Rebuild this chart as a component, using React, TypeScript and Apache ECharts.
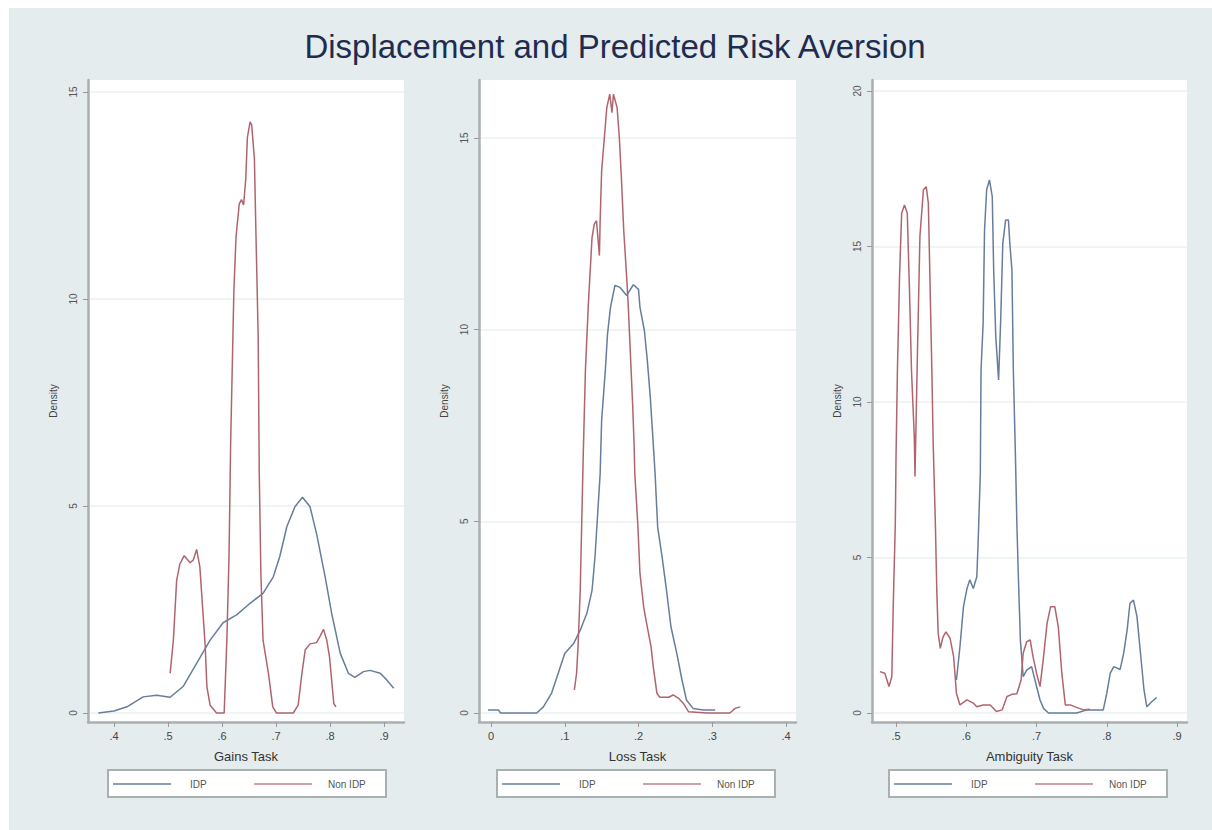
import React, { useEffect, useRef } from "react";
import * as echarts from "echarts";

const titleText = "Displacement and Predicted Risk Aversion";
const seriesNames = ["IDP", "Non IDP"];
const xAxisNames = ["Gains Task", "Loss Task", "Ambiguity Task"];
const yAxisName = "Density";

const gainsTicksX = [0.4, 0.5, 0.6, 0.7, 0.8, 0.9];
const lossTicksX = [0, 0.1, 0.2, 0.3, 0.4];
const ambTicksX = [0.5, 0.6, 0.7, 0.8, 0.9];
const gainsTicksY = [0, 5, 10, 15];
const lossTicksY = [0, 5, 10, 15];
const ambTicksY = [0, 5, 10, 15, 20];

const gainsIdp = [
  [0.371, 0], [0.4, 0.05], [0.424, 0.15], [0.454, 0.39], [0.479, 0.43], [0.504, 0.38],
  [0.528, 0.64], [0.553, 1.2], [0.578, 1.76], [0.602, 2.18], [0.627, 2.37], [0.652, 2.65],
  [0.676, 2.89], [0.695, 3.29], [0.707, 3.78], [0.72, 4.5], [0.735, 4.98], [0.749, 5.21],
  [0.763, 4.98], [0.775, 4.34], [0.791, 3.29], [0.803, 2.41], [0.819, 1.44], [0.834, 0.96],
  [0.846, 0.86], [0.862, 1.0], [0.874, 1.03], [0.893, 0.96], [0.905, 0.8], [0.918, 0.6],
];
const gainsNon = [
  [0.504, 0.96], [0.51, 1.76], [0.516, 3.2], [0.522, 3.6], [0.53, 3.8], [0.541, 3.63],
  [0.547, 3.7], [0.553, 3.95], [0.559, 3.53], [0.564, 2.57], [0.569, 1.6], [0.572, 0.64],
  [0.578, 0.19], [0.59, 0], [0.604, 0], [0.609, 1.76], [0.613, 3.78], [0.616, 6.5],
  [0.622, 10.2], [0.626, 11.5], [0.632, 12.3], [0.636, 12.4], [0.64, 12.27], [0.644, 12.9],
  [0.647, 13.9], [0.652, 14.28], [0.655, 14.2], [0.66, 13.4], [0.663, 11.5], [0.667, 9.1],
  [0.669, 5.8], [0.672, 3.37], [0.676, 1.76], [0.686, 0.96], [0.694, 0.15], [0.701, 0],
  [0.732, 0], [0.741, 0.19], [0.748, 0.96], [0.754, 1.52], [0.763, 1.67], [0.775, 1.7],
  [0.781, 1.84], [0.788, 2.02], [0.794, 1.76], [0.799, 1.36], [0.803, 0.8], [0.807, 0.23],
  [0.811, 0.15],
];
const lossIdp = [
  [-0.004, 0.08], [0.01, 0.08], [0.013, 0], [0.062, 0], [0.071, 0.16], [0.082, 0.51],
  [0.091, 1.03], [0.1, 1.55], [0.112, 1.81], [0.121, 2.16], [0.13, 2.6], [0.137, 3.2],
  [0.141, 4.07], [0.144, 5.0], [0.148, 6.24], [0.15, 7.63], [0.155, 8.93], [0.158, 9.89],
  [0.162, 10.58], [0.168, 11.15], [0.175, 11.1], [0.184, 10.89], [0.193, 11.17], [0.2, 11.05],
  [0.202, 10.58], [0.208, 9.97], [0.212, 9.19], [0.216, 8.24], [0.22, 7.02], [0.2225, 6.24],
  [0.226, 4.85], [0.232, 4.07], [0.238, 3.2], [0.244, 2.25], [0.252, 1.55], [0.259, 0.86],
  [0.265, 0.34], [0.274, 0.12], [0.288, 0.08], [0.304, 0.08],
];
const lossNon = [
  [0.113, 0.6], [0.116, 1.03], [0.118, 1.73], [0.121, 3.2], [0.123, 4.94], [0.125, 6.67],
  [0.128, 8.93], [0.132, 10.67], [0.137, 12.4], [0.14, 12.75], [0.143, 12.84], [0.147, 11.93],
  [0.148, 12.84], [0.15, 14.14], [0.153, 14.84], [0.157, 15.79], [0.161, 16.14], [0.164, 15.66],
  [0.166, 16.14], [0.171, 15.79], [0.174, 15.01], [0.177, 13.88], [0.18, 12.58], [0.184, 11.36],
  [0.186, 10.67], [0.189, 9.37], [0.192, 8.07], [0.194, 7.02], [0.195, 6.24], [0.199, 4.94],
  [0.202, 3.64], [0.207, 2.77], [0.211, 2.34], [0.217, 1.73], [0.22, 1.21], [0.225, 0.51],
  [0.229, 0.41], [0.241, 0.41], [0.247, 0.47], [0.254, 0.39], [0.261, 0.25], [0.268, 0.03],
  [0.293, 0], [0.324, 0], [0.331, 0.12], [0.338, 0.16],
];
const ambIdp = [
  [0.586, 1.06], [0.591, 2.13], [0.596, 3.42], [0.601, 4.0], [0.605, 4.28], [0.61, 4.0],
  [0.615, 4.38], [0.617, 5.56], [0.62, 7.71], [0.621, 11.03], [0.624, 12.53], [0.626, 15.53],
  [0.629, 16.82], [0.633, 17.14], [0.637, 16.6], [0.639, 14.24], [0.642, 12.1], [0.646, 10.71],
  [0.649, 12.64], [0.652, 15.1], [0.656, 15.85], [0.66, 15.85], [0.662, 15.1], [0.665, 14.24],
  [0.667, 11.03], [0.67, 8.24], [0.672, 6.1], [0.674, 4.49], [0.677, 2.35], [0.681, 1.17],
  [0.686, 1.38], [0.693, 1.49], [0.699, 0.95], [0.705, 0.42], [0.71, 0.15], [0.717, 0],
  [0.757, 0], [0.772, 0.1], [0.795, 0.1], [0.8, 0.63], [0.805, 1.28], [0.81, 1.49],
  [0.819, 1.4], [0.824, 1.92], [0.829, 2.67], [0.833, 3.53], [0.838, 3.63], [0.843, 3.1],
  [0.848, 1.92], [0.853, 0.74], [0.857, 0.2], [0.864, 0.36], [0.871, 0.5],
];
const ambNon = [
  [0.477, 1.33], [0.484, 1.28], [0.49, 0.85], [0.494, 1.17], [0.496, 3.42], [0.499, 6.1],
  [0.5, 8.24], [0.502, 11.03], [0.505, 14.03], [0.508, 16.07], [0.512, 16.33], [0.516, 16.07],
  [0.519, 13.71], [0.522, 11.03], [0.526, 8.88], [0.527, 7.6], [0.53, 11.03], [0.534, 15.32],
  [0.539, 16.82], [0.543, 16.92], [0.546, 16.39], [0.548, 14.24], [0.551, 11.03], [0.553, 8.56],
  [0.556, 6.1], [0.558, 3.95], [0.56, 2.56], [0.563, 2.08], [0.567, 2.45], [0.571, 2.61],
  [0.577, 2.4], [0.582, 1.81], [0.586, 0.63], [0.591, 0.26], [0.601, 0.42], [0.61, 0.32],
  [0.615, 0.2], [0.624, 0.26], [0.634, 0.26], [0.643, 0.05], [0.651, 0.1], [0.658, 0.53],
  [0.665, 0.6], [0.672, 0.62], [0.678, 1.06], [0.681, 1.92], [0.686, 2.29], [0.691, 2.35],
  [0.695, 1.81], [0.7, 1.28], [0.705, 0.85], [0.71, 1.81], [0.715, 2.88], [0.72, 3.42],
  [0.726, 3.42], [0.731, 2.77], [0.736, 1.28], [0.741, 0.26], [0.748, 0.26], [0.757, 0.18],
  [0.767, 0.1], [0.776, 0.12],
];

// layout (pixels) and axis extents
const panels = [
  { left: 88, width: 316, xMin: 0.3519, xMax: 0.937, yMin: -0.217, yMax: 15.29, ticksX: gainsTicksX, ticksY: gainsTicksY, idp: gainsIdp, non: gainsNon, legendLeft: 108 },
  { left: 479, width: 317, xMin: -0.0163, xMax: 0.4136, yMin: -0.235, yMax: 16.51, ticksX: lossTicksX, ticksY: lossTicksY, idp: lossIdp, non: lossNon, legendLeft: 497 },
  { left: 872, width: 315, xMin: 0.4658, xMax: 0.9142, yMin: -0.289, yMax: 20.35, ticksX: ambTicksX, ticksY: ambTicksY, idp: ambIdp, non: ambNon, legendLeft: 889 },
];
const TOP = 80;
const BOTTOM = 722;
const FONT = "'Liberation Sans', Arial, sans-serif";
const IDP_COLOR = "#667d9c";
const NON_COLOR = "#b0646d";
const AXIS_COLOR = "#a9b0b0";
const BG = "#e4ecee";

const fmtX = (v: number) => (v === 0 ? "0" : v.toFixed(1).replace(/^0/, ""));

export default function App() {
  const ref = useRef<HTMLDivElement>(null);
  useEffect(() => {
    document.body.style.margin = "0";
    if (!ref.current) return;
    const chart = echarts.init(ref.current, undefined, { renderer: "svg" });

    const grid = panels.map((p) => ({
      left: p.left,
      top: TOP,
      width: p.width,
      height: BOTTOM - TOP,
      show: true,
      backgroundColor: "#ffffff",
      borderWidth: 0,
      containLabel: false,
    }));

    const xAxis = panels.map((p, i) => ({
      type: "value",
      gridIndex: i,
      min: p.xMin,
      max: p.xMax,
      name: xAxisNames[i],
      nameLocation: "middle",
      nameGap: 28,
      nameTextStyle: { fontFamily: FONT, fontSize: 13, color: "#333" },
      axisLine: { show: true, onZero: false, lineStyle: { color: AXIS_COLOR, width: 2.5 } },
      axisTick: { show: true, customValues: p.ticksX, length: 5, lineStyle: { color: "#999", width: 1 } },
      axisLabel: { customValues: p.ticksX, formatter: fmtX, fontFamily: FONT, fontSize: 11, color: "#444", margin: 8 },
      splitLine: { show: false },
    }));

    const yAxis = panels.map((p, i) => ({
      type: "value",
      gridIndex: i,
      min: p.yMin,
      max: p.yMax,
      name: yAxisName,
      nameLocation: "middle",
      nameGap: 30,
      nameRotate: 90,
      nameTextStyle: { fontFamily: FONT, fontSize: 10, color: "#444" },
      axisLine: { show: true, onZero: false, lineStyle: { color: AXIS_COLOR, width: 2.5 } },
      axisTick: { show: true, customValues: p.ticksY, length: 5, lineStyle: { color: "#999", width: 1 } },
      axisLabel: { customValues: p.ticksY, rotate: 90, fontFamily: FONT, fontSize: 10, color: "#555", margin: 10 },
      splitLine: { show: true, lineStyle: { color: "#eaf1f2", width: 1.5 } },
    }));

    const series: any[] = [];
    panels.forEach((p, i) => {
      series.push({
        type: "line", name: seriesNames[0], xAxisIndex: i, yAxisIndex: i, data: p.idp,
        showSymbol: false, symbol: "none", lineStyle: { color: IDP_COLOR, width: 1.5 }, itemStyle: { color: IDP_COLOR },
      });
      series.push({
        type: "line", name: seriesNames[1], xAxisIndex: i, yAxisIndex: i, data: p.non,
        showSymbol: false, symbol: "none", lineStyle: { color: NON_COLOR, width: 1.5 }, itemStyle: { color: NON_COLOR },
      });
    });

    const graphic: any[] = [
      { type: "rect", z: -10, silent: true, shape: { x: 9, y: 8, width: 1203, height: 822 }, style: { fill: BG } },
      {
        type: "text", x: 615, y: 46, z: 10,
        style: { text: titleText, fontFamily: FONT, fontSize: 33, fill: "#1f2c50", textAlign: "center", textVerticalAlign: "middle" },
      },
    ];
    panels.forEach((p) => {
      const L = p.legendLeft;
      const T = 770;
      graphic.push({
        type: "group", x: L, y: T, z: 10,
        children: [
          { type: "rect", shape: { x: 0, y: 0, width: 278, height: 27 }, style: { fill: "#ffffff", stroke: AXIS_COLOR, lineWidth: 2 } },
          { type: "line", shape: { x1: 5, y1: 14, x2: 63, y2: 14 }, style: { stroke: IDP_COLOR, lineWidth: 2, opacity: 0.75 } },
          { type: "text", x: 82, y: 14, style: { text: seriesNames[0], fontFamily: FONT, fontSize: 10, fill: "#555", textVerticalAlign: "middle" } },
          { type: "line", shape: { x1: 146, y1: 14, x2: 204, y2: 14 }, style: { stroke: NON_COLOR, lineWidth: 2, opacity: 0.6 } },
          { type: "text", x: 220, y: 14, style: { text: seriesNames[1], fontFamily: FONT, fontSize: 10, fill: "#555", textVerticalAlign: "middle" } },
        ],
      });
    });

    chart.setOption({
      animation: false,
      backgroundColor: "#ffffff",
      textStyle: { fontFamily: FONT },
      grid,
      xAxis,
      yAxis,
      series,
      graphic,
    });
    return () => chart.dispose();
  }, []);
  return <div ref={ref} style={{ width: 1212, height: 830 }} />;
}
